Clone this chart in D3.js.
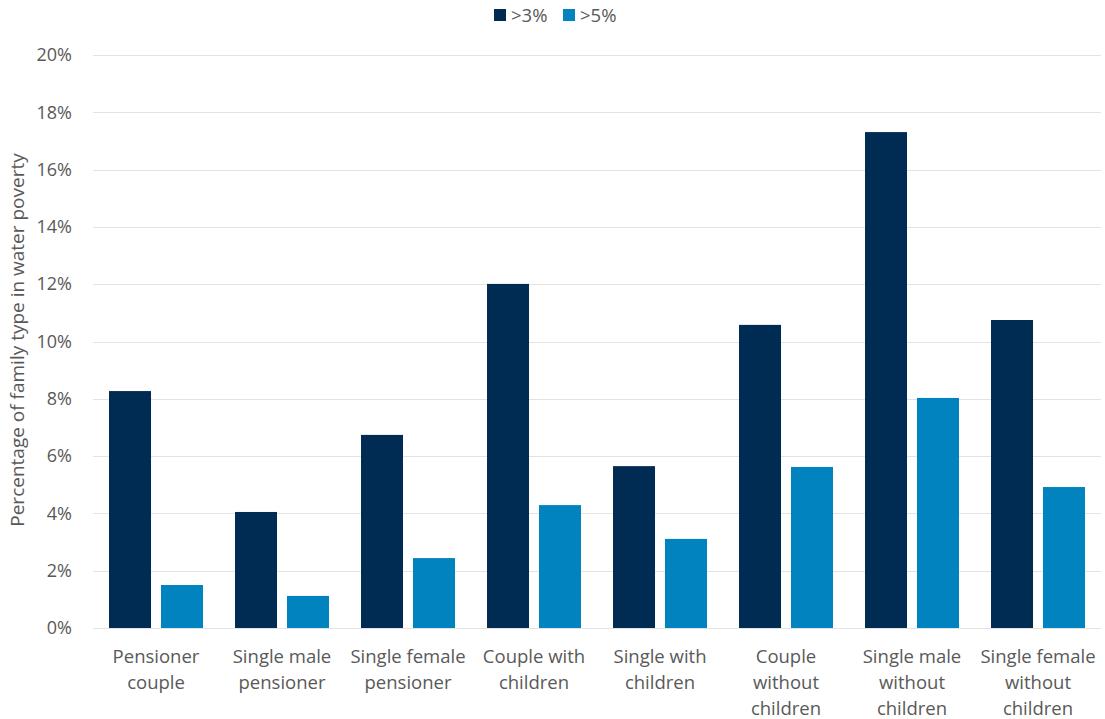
<!DOCTYPE html>
<html>
<head>
<meta charset="utf-8">
<script src="https://cdn.jsdelivr.net/npm/d3@7"></script>
<style>
  html, body { margin: 0; padding: 0; background: #ffffff; }
  svg text { font-family: "Open Sans", "Noto Sans", sans-serif; fill: #595959; }
</style>
</head>
<body>
<svg id="chart" width="1105" height="719"></svg>
<script>
// Family types (x categories), each label split into display lines
const categories = [
  ["Pensioner", "couple"],
  ["Single male", "pensioner"],
  ["Single female", "pensioner"],
  ["Couple with", "children"],
  ["Single with", "children"],
  ["Couple", "without", "children"],
  ["Single male", "without", "children"],
  ["Single female", "without", "children"]
];

// Share of each family type in water poverty (%)
const over3 = [8.27, 4.05, 6.74, 12.01, 5.65, 10.58, 17.31, 10.75];
const over5 = [1.50, 1.12, 2.44, 4.29, 3.11, 5.62, 8.03, 4.92];

const seriesNames = [">3%", ">5%"];
const seriesColors = ["#002C53", "#0083BE"];
const yTicks = [0, 2, 4, 6, 8, 10, 12, 14, 16, 18, 20];
const yTitle = "Percentage of family type in water poverty";

const svg = d3.select("#chart");
const margin = { left: 93, right: 1101, top: 55, bottom: 628 };

const keys = categories.map((c, i) => i);
const x = d3.scaleBand().domain(keys).range([margin.left, margin.right]).paddingInner(0).paddingOuter(0);
const xInner = d3.scaleBand().domain([0, 1]).range([0, x.bandwidth()]).paddingInner(0.192).paddingOuter(0.308);
const y = d3.scaleLinear().domain([0, 20]).range([margin.bottom, margin.top]);

// Gridlines
svg.append("g")
  .selectAll("line")
  .data(yTicks)
  .join("line")
  .attr("x1", margin.left)
  .attr("x2", margin.right)
  .attr("y1", d => Math.round(y(d)) + 0.5)
  .attr("y2", d => Math.round(y(d)) + 0.5)
  .attr("stroke", "#e3e3e3")
  .attr("stroke-width", 1.2);

// Y axis labels
const yAxis = d3.axisLeft(y).tickValues(yTicks).tickFormat(d => d + "%").tickSize(0).tickPadding(21);
const yg = svg.append("g").attr("transform", `translate(${margin.left},0)`).call(yAxis);
yg.select(".domain").remove();
yg.attr("font-family", null).attr("font-size", null);
yg.selectAll("text").attr("font-size", "18px");

// Bars
const data = keys.map(i => [over3[i], over5[i]]);
const groups = svg.append("g")
  .selectAll("g")
  .data(data)
  .join("g")
  .attr("transform", (d, i) => `translate(${x(i)},0)`);

groups.selectAll("rect")
  .data(d => d.map((v, s) => ({ v, s })))
  .join("rect")
  .attr("x", d => xInner(d.s))
  .attr("width", xInner.bandwidth())
  .attr("y", d => y(d.v))
  .attr("height", d => y(0) - y(d.v))
  .attr("fill", d => seriesColors[d.s]);

// Category labels
const xl = svg.append("g");
categories.forEach((lines, i) => {
  const cx = x(i) + x.bandwidth() / 2;
  const t = xl.append("text")
    .attr("text-anchor", "middle")
    .attr("font-size", "18.5px")
    .attr("x", cx)
    .attr("y", 663);
  lines.forEach((ln, j) => {
    t.append("tspan")
      .attr("x", cx)
      .attr("dy", j === 0 ? 0 : 26)
      .text(ln);
  });
});

// Y axis title
svg.append("text")
  .attr("transform", `translate(24,340) rotate(-90)`)
  .attr("text-anchor", "middle")
  .attr("font-size", "19px")
  .text(yTitle);

// Legend
const legend = svg.append("g");
const legendX = [494, 563];
seriesNames.forEach((name, s) => {
  legend.append("rect")
    .attr("x", legendX[s])
    .attr("y", 9)
    .attr("width", 12)
    .attr("height", 12)
    .attr("fill", seriesColors[s]);
  legend.append("text")
    .attr("x", legendX[s] + 17)
    .attr("y", 22)
    .attr("font-size", "18.5px")
    .text(name);
});
</script>
</body>
</html>
